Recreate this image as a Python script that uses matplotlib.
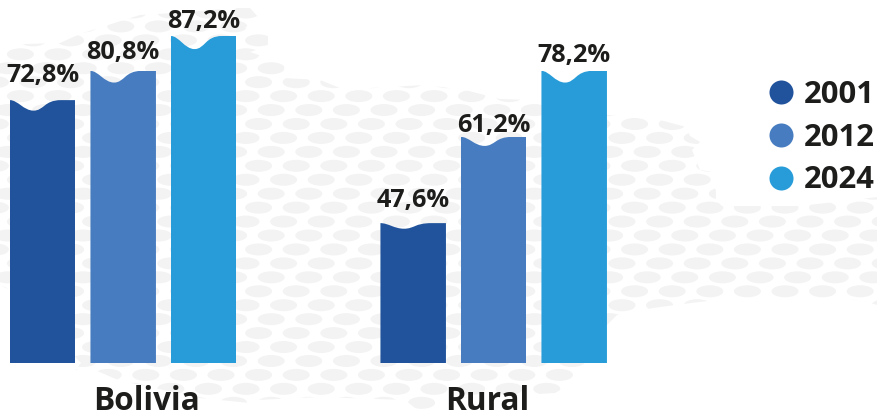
import matplotlib
matplotlib.use("Agg")
import matplotlib.pyplot as plt
import numpy as np
from matplotlib.lines import Line2D
from matplotlib.patches import Ellipse, PathPatch, Polygon
from matplotlib.path import Path

# --- data ---
categories = ["Bolivia", "Rural"]
years = ["2001", "2012", "2024"]
printed_bolivia = ["72,8%", "80,8%", "87,2%"]
printed_rural = ["47,6%", "61,2%", "78,2%"]
# bar lengths as drawn in the picture (not strictly proportional to the printed values)
drawn_bolivia = [70.1, 77.9, 87.2]
drawn_rural = [37.3, 60.3, 77.9]
colors = ["#20539C", "#477DC0", "#279CD9"]

# --- layout ---
W, H = 878, 412
BASE_PX = 363
PX_PER_UNIT = 3.75
GROUP_CENTERS = [123.2, 493.7]
STEP = 80.5
BAR_W = 65.5
LABEL_GAPS_PX = [[18, 12, 8], [16, 5, 9]]
TEXT = "#1D1D1B"
plt.rcParams["font.family"] = ["Open Sans", "DejaVu Sans"]

fig = plt.figure(figsize=(W / 100, H / 100), dpi=100, facecolor="white")

# decorative dotted map in the background
bg = fig.add_axes([0, 0, 1, 1], zorder=0)
bg.set_xlim(0, W)
bg.set_ylim(H, 0)
bg.axis("off")
outline = [
    (0, 52), (25, 44), (60, 43), (80, 34), (105, 26), (140, 15), (190, 12), (235, 8), (250, 8),
    (258, 17), (245, 28), (268, 36), (268, 46), (250, 52), (285, 64), (283, 78), (320, 80),
    (340, 88), (370, 88), (425, 85), (465, 90), (500, 99), (530, 100), (607, 115), (660, 120),
    (686, 127), (690, 136), (700, 142), (692, 150), (700, 170), (712, 172), (716, 192),
    (716, 200), (722, 206), (800, 206), (878, 197), (878, 305), (846, 298), (733, 298),
    (683, 304), (653, 308), (617, 315), (607, 325), (595, 345), (585, 365), (573, 382),
    (555, 393), (470, 398), (440, 397), (437, 405), (420, 412), (405, 400), (320, 397),
    (257, 400), (250, 403), (200, 398), (118, 380), (95, 370), (75, 370), (81, 363),
    (10, 290), (0, 285),
]
clip_shape = Polygon(outline, closed=True, transform=bg.transData, fc="none", ec="none")
bg.add_patch(clip_shape)
phases = [33.0, 20.4, 8.0]
for k in range(-9, 21):
    yc = 124 + 13.94 * k
    for xc in np.arange(phases[k % 3] - 37.6, W + 40, 37.6):
        e = Ellipse((xc, yc), 27, 12, fc="#F3F3F3", ec="none")
        bg.add_patch(e)
        e.set_clip_path(clip_shape)

# chart
ax = fig.add_axes([0, (H - BASE_PX) / H, 1, BASE_PX / H], zorder=1)
ax.patch.set_alpha(0)
ax.set_xlim(0, W)
ax.set_ylim(0, BASE_PX / PX_PER_UNIT)


def wave_clip(x0, w, h):
    d = 0.04 * h
    v = [(x0, 0), (x0, h),
         (x0 + 0.12 * w, h), (x0 + 0.21 * w, h - d), (x0 + 0.36 * w, h - d),
         (x0 + 0.52 * w, h - d), (x0 + 0.52 * w, h), (x0 + 0.78 * w, h),
         (x0 + w, h), (x0 + w, 0), (x0, 0)]
    c = [Path.MOVETO, Path.LINETO, Path.CURVE4, Path.CURVE4, Path.CURVE4,
         Path.CURVE4, Path.CURVE4, Path.CURVE4, Path.LINETO, Path.LINETO, Path.CLOSEPOLY]
    return Path(v, c)


for center, drawn, printed, gaps in zip(GROUP_CENTERS, [drawn_bolivia, drawn_rural],
                                        [printed_bolivia, printed_rural], LABEL_GAPS_PX):
    for i, (h, lab, col, gap) in enumerate(zip(drawn, printed, colors, gaps)):
        xc = center + (i - 1) * STEP
        bar = ax.bar(xc, h, width=BAR_W, color=col, linewidth=0)[0]
        clip = PathPatch(wave_clip(bar.get_x(), bar.get_width(), h), transform=ax.transData,
                         fc="none", ec="none")
        ax.add_patch(clip)
        bar.set_clip_path(clip)
        ax.annotate(lab, (xc, h), xytext=(0, gap * 0.72), textcoords="offset points", ha="center",
                    va="baseline", fontsize=18.2, fontweight="bold", color=TEXT, annotation_clip=False)

ax.set_yticks([])
ax.set_xticks([146.5, 487], categories, fontsize=22.7, fontweight="bold", color=TEXT)
ax.tick_params(axis="x", length=0, pad=16)
for s in ax.spines.values():
    s.set_visible(False)

handles = [Line2D([], [], ls="none", marker="o", ms=17.3, mfc=c, mec="none") for c in colors]
ax.legend(handles, years, loc="upper left", bbox_to_anchor=(765 / W, 1 - 80 / BASE_PX),
          frameon=False, prop={"size": 22.3, "weight": "bold"}, labelcolor=TEXT,
          handlelength=1.04, handletextpad=0.2, labelspacing=0.41, borderpad=0, borderaxespad=0)

fig.savefig("out.png", dpi=100)
